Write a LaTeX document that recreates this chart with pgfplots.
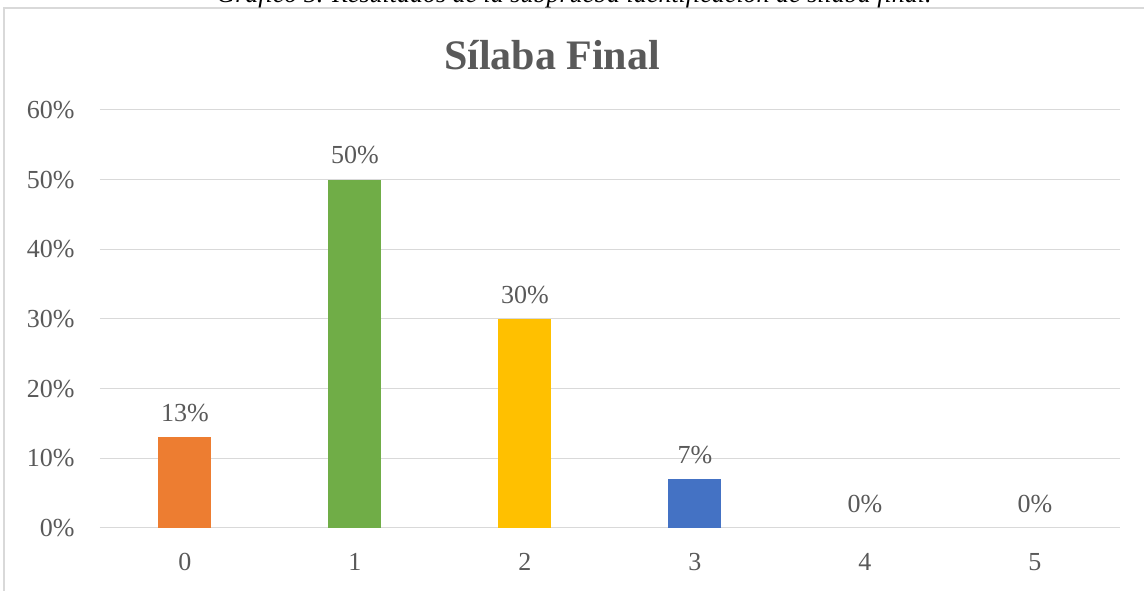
\documentclass[border=0pt]{standalone}
\usepackage{pgfplots}
\pgfplotsset{compat=1.18}
\usepackage{fontspec}
\setmainfont{Liberation Serif}
\definecolor{txt}{HTML}{595959}
\definecolor{gridc}{HTML}{D9D9D9}
\definecolor{c0}{HTML}{ED7D31}
\definecolor{c1}{HTML}{70AD47}
\definecolor{c2}{HTML}{FFC000}
\definecolor{c3}{HTML}{4472C4}
\begin{document}
\begin{tikzpicture}[x=1pt,y=1pt]
\useasboundingbox (0,0) rectangle (1144,591);
\begin{scope}
\clip (0,0) rectangle (1144,591);
\draw[gridc, line width=1.5pt] (4,-10) rectangle (1160,583);
\node[anchor=base, inner sep=0pt, font=\fontsize{26}{30}\selectfont\itshape] at (574,588) {Gráfico 5. Resultados de la subprueba identificación de sílaba final.};
\end{scope}
\node[anchor=base, inner sep=0pt, text=txt, font=\fontsize{42}{48}\selectfont\bfseries] at (552,521) {Sílaba Final};
\begin{axis}[
  at={(100pt,63pt)}, anchor=south west,
  scale only axis, width=1020pt, height=418pt,
  xmin=-0.5, xmax=5.5, ymin=0, ymax=60,
  xtick={0,1,2,3,4,5}, ytick={0,10,20,30,40,50,60},
  yticklabel={\pgfmathprintnumber{\tick}\%},
  /pgf/number format/assume math mode=true,
  ymajorgrids, xmajorgrids=false, grid style={gridc, line width=1pt},
  major tick length=0pt,
  axis line style={draw=none},
  axis x line*=bottom, axis y line*=left,
  x axis line style={gridc, line width=1pt},
  ticklabel style={text=txt, font=\fontsize{26}{30}\selectfont},
  xticklabel style={yshift=-22pt},
  yticklabel style={xshift=-22pt},
  ybar, bar width=53pt, bar shift=0pt,
  nodes near coords={\pgfmathprintnumber{\pgfplotspointmeta}\%},
  nodes near coords style={text=txt, font=\fontsize{26}{30}\selectfont, yshift=12pt},
  point meta=explicit,
]
\addplot[fill=c0, draw=none] coordinates {(0,13) [13]};
\addplot[fill=c1, draw=none] coordinates {(1,50) [50]};
\addplot[fill=c2, draw=none] coordinates {(2,30) [30]};
\addplot[fill=c3, draw=none] coordinates {(3,7) [7]};
\addplot[fill=none, draw=none] coordinates {(4,0) [0] (5,0) [0]};
\end{axis}
\end{tikzpicture}
\end{document}
